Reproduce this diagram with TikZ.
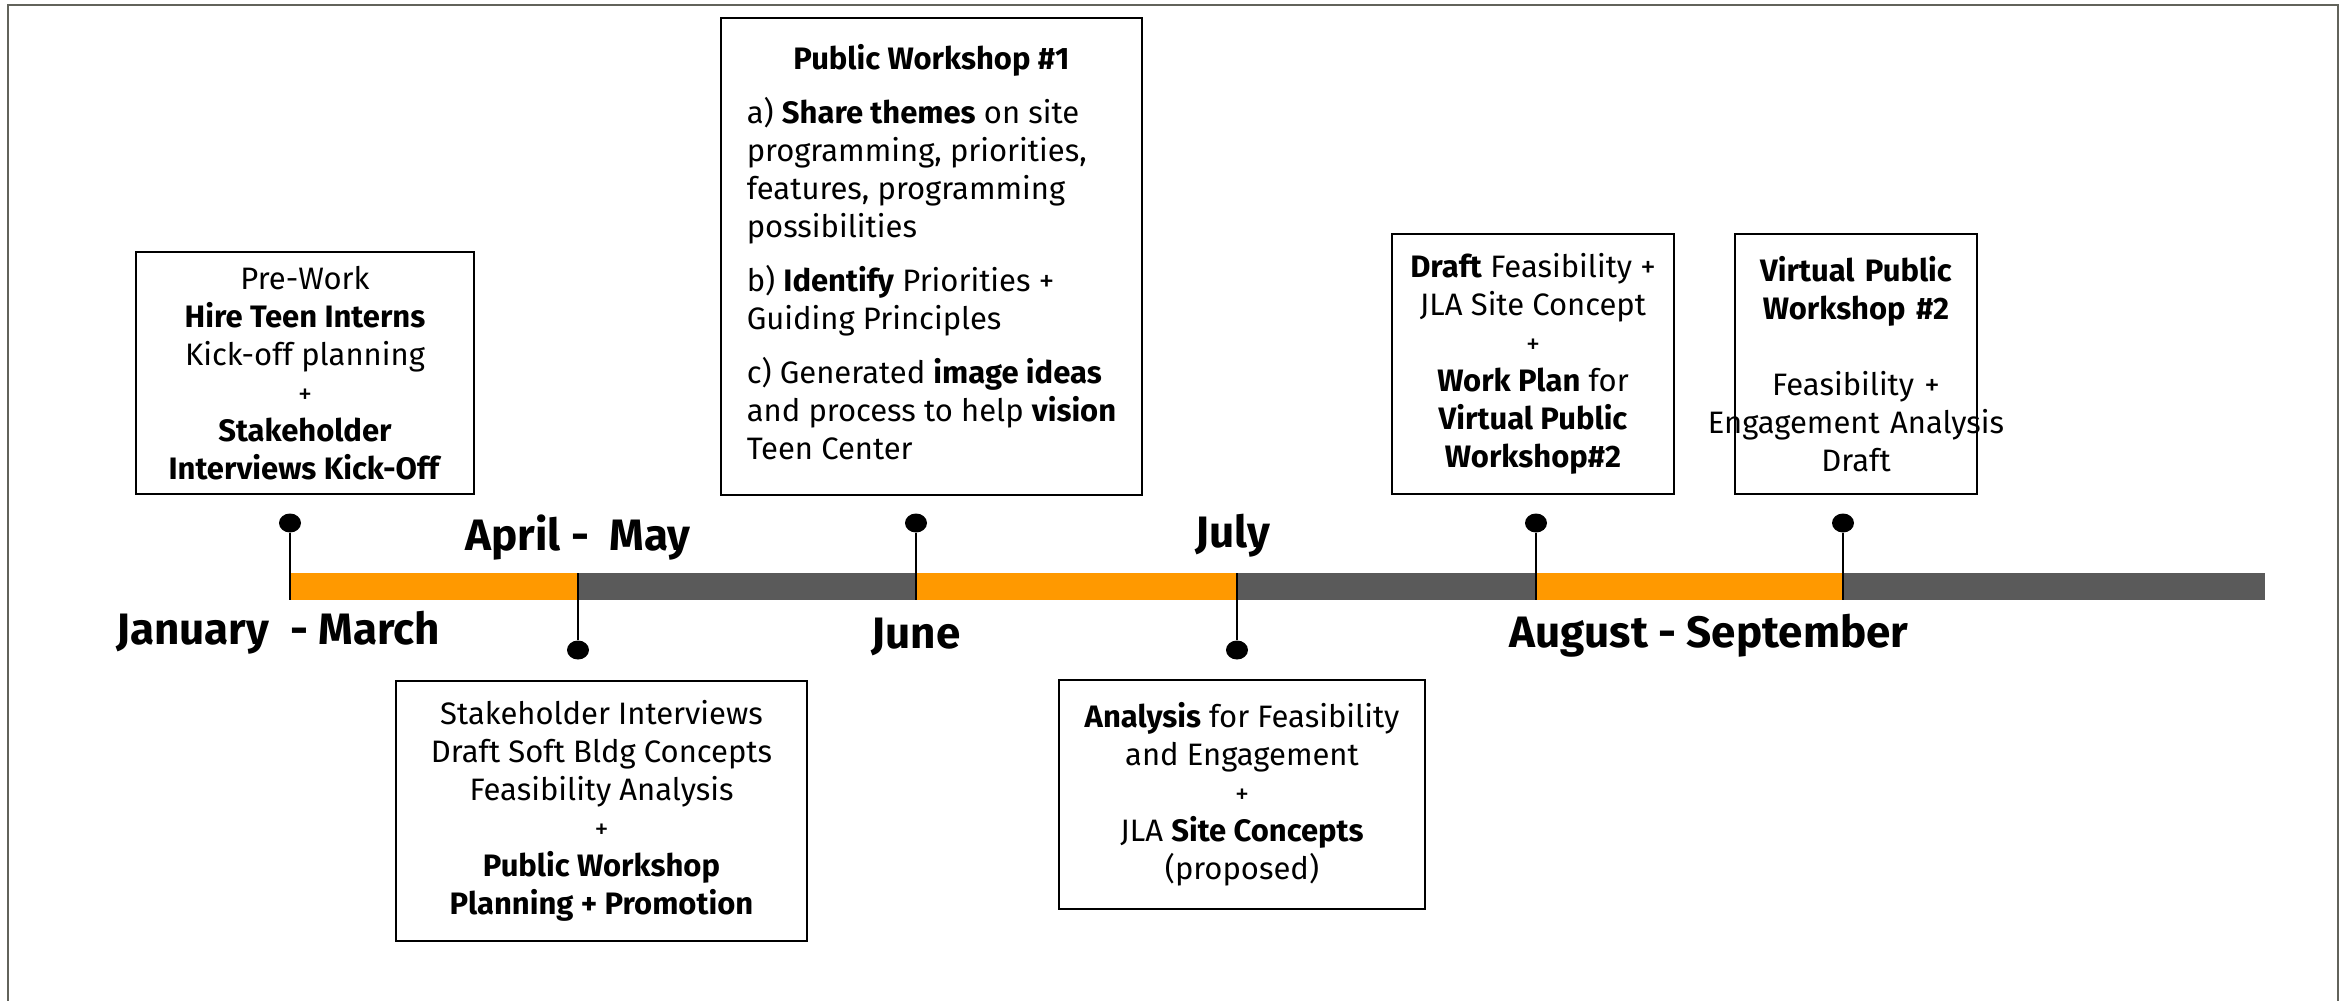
\documentclass[tikz,border=0pt]{standalone}
\usepackage{fontspec}
\setmainfont{Fira Sans}
\usetikzlibrary{shapes.geometric}
\definecolor{barorange}{HTML}{FF9900}
\definecolor{bargray}{HTML}{5A5A5A}
\definecolor{framegray}{HTML}{62635B}
\tikzset{
  plan/.style={draw=black, line width=1pt, align=center, inner sep=0pt,
    font=\fontsize{15.5}{19}\selectfont},
  month/.style={anchor=base, font=\fontsize{22}{26}\selectfont\bfseries},
  pin/.style={ellipse, fill=black, minimum width=11pt, minimum height=9.5pt, inner sep=0pt},
}
\newcommand{\plus}{{\fontsize{14}{19}\selectfont +}}
\begin{document}
\begin{tikzpicture}[x=0.5pt, y=-0.5pt]
      \useasboundingbox (0,0) rectangle (2351,1001);
      \draw[framegray, line width=1.2pt] (8,1001) -- (8,5) -- (2338,5) -- (2338,1001);
      \foreach \a/\b/\c in {290/578/barorange, 578/916/bargray, 916/1237/barorange,
        1237/1536/bargray, 1536/1843/barorange, 1843/2265/bargray}
        \fill[\c] (\a,573) rectangle (\b,600);
      \draw
        (290,523) node[pin] (p1){}
        (578,650) node[pin] (p2){}
        (916,523) node[pin] (p3){}
        (1237,650) node[pin] (p4){}
        (1536,523) node[pin] (p5){}
        (1843,523) node[pin] (p6){};
      \coordinate (b1) at (290,600);
      \coordinate (b2) at (578,573);
      \coordinate (b3) at (916,600);
      \coordinate (b4) at (1237,573);
      \coordinate (b5) at (1536,600);
      \coordinate (b6) at (1843,600);
      \begin{scope}[line width=1pt]
        \draw (p1) to (b1);
        \draw (p2) to (b2);
        \draw (p3) to (b3);
        \draw (p4) to (b4);
        \draw (p5) to (b5);
        \draw (p6) to (b6);
      \end{scope}
      \node[month] (jan) at (278,644) {January\ \ - March};
      \node[month] (apr) at (578,550) {April -\ \ May};
      \node[month] (jun) at (916,648) {June};
      \node[month] (jul) at (1233,547) {July};
      \node[month] (aug) at (1709,647) {August - September};
      \node[plan, minimum width=169pt, minimum height=121pt] (prework) at (305,373)
        {Pre-Work\\\textbf{Hire Teen Interns}\\Kick-off planning\\\plus\\
         \textbf{Stakeholder}\\\textbf{Interviews Kick-Off}};
      \node[plan, minimum width=210.5pt, minimum height=238.5pt] (workshop1) at (931.5,256.5)
        {\begin{tabular}{@{}l@{}}
         \multicolumn{1}{c}{\textbf{Public Workshop \#1}}\\[8pt]
         a) \textbf{Share themes} on site\\
         programming, priorities,\\
         features, programming\\
         possibilities\\[8pt]
         b) \textbf{Identify} Priorities +\\
         Guiding Principles\\[8pt]
         c) Generated \textbf{image ideas}\\
         and process to help \textbf{vision}\\
         Teen Center
         \end{tabular}};
      \node[plan, minimum width=141pt, minimum height=130pt] (draftplan) at (1533,364)
        {\textbf{Draft} Feasibility +\\JLA Site Concept\\\plus\\\textbf{Work Plan} for\\
         \textbf{Virtual Public}\\\textbf{Workshop\#2}};
      \node[plan, text width=121pt, minimum height=130pt] (workshop2) at (1856,364)
        {\textbf{Virtual Public}\\\textbf{Workshop \#2}\\[19pt]Feasibility +\\
         \makebox[121pt]{Engagement Analysis}\\Draft};
      \node[plan, minimum width=205.5pt, minimum height=130pt] (interviews) at (601.5,811)
        {Stakeholder Interviews\\Draft Soft Bldg Concepts\\Feasibility Analysis\\\plus\\
         \textbf{Public Workshop}\\\textbf{Planning + Promotion}};
      \node[plan, minimum width=183pt, minimum height=114.5pt] (analysis) at (1242,794.5)
        {\textbf{Analysis} for Feasibility\\and Engagement\\\plus\\
         JLA \textbf{Site Concepts}\\(proposed)};
    \end{tikzpicture}
\end{document}
